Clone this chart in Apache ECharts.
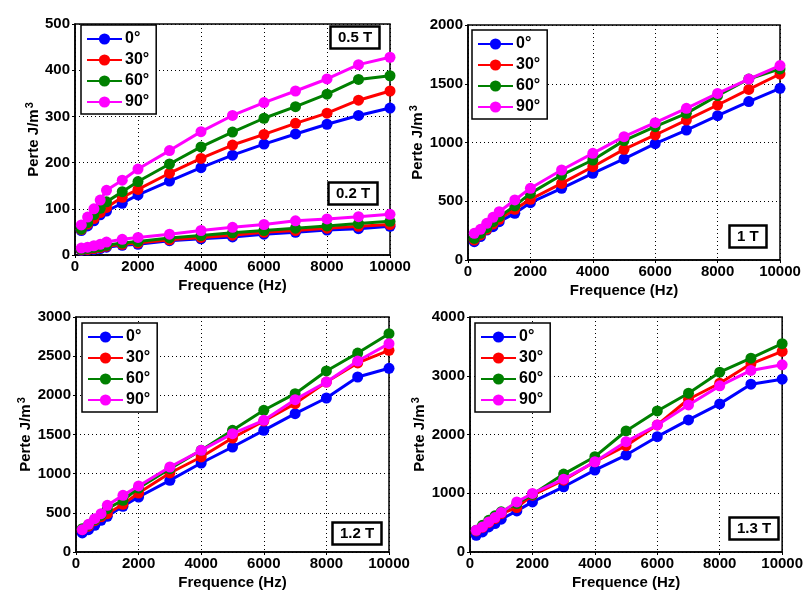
<!DOCTYPE html>
<html><head><meta charset="utf-8">
<script src="https://cdn.jsdelivr.net/npm/echarts@6/dist/echarts.min.js"></script>
<style>html,body{margin:0;padding:0;background:#fff}#c{width:806px;height:594px}</style>
</head><body><div id="c"></div>
<script>
var freqs = [200,400,600,800,1000,1500,2000,3000,4000,5000,6000,7000,8000,9000,10000];
var angles = ['0°','30°','60°','90°'];
var colors = ['#0000ff','#ff0000','#008000','#ff00ff'];

// 0.5 T
var t05_0  = [53,63,74,87,95,112,130,160,189,216,240,262,283,302,318];
var t05_30 = [55,67,79,92,103,125,142,177,209,238,261,285,307,335,355];
var t05_60 = [56,70,87,101,115,137,159,197,234,266,296,321,348,380,388];
var t05_90 = [65,82,100,119,140,162,186,226,267,302,330,355,381,412,428];
// 0.2 T
var t02_0  = [10,11,12,14,17,21,23,31,35,39,45,49,54,57,62];
var t02_30 = [11,12,14,16,19,23,26,33,38,43,49,53,58,62,66];
var t02_60 = [12,14,16,18,21,26,29,37,42,48,53,58,63,68,73];
var t02_90 = [15,17,20,23,28,34,38,45,53,60,66,74,78,83,88];
// 1 T
var t1_0  = [156,199,255,284,326,397,488,610,738,860,990,1106,1228,1348,1461];
var t1_30 = [170,213,261,306,346,431,516,652,794,942,1064,1191,1319,1452,1583];
var t1_60 = [184,227,275,326,369,460,567,723,851,1016,1135,1248,1399,1540,1626];
var t1_90 = [227,261,312,363,411,511,610,766,908,1050,1169,1291,1418,1540,1655];
// 1.2 T
var t12_0  = [243,285,340,404,455,583,702,915,1136,1340,1553,1766,1966,2234,2345];
var t12_30 = [285,330,400,450,489,609,753,1009,1213,1455,1672,1894,2170,2413,2574];
var t12_60 = [298,345,415,470,553,660,817,1064,1298,1553,1809,2021,2311,2540,2787];
var t12_90 = [285,353,426,489,596,723,843,1085,1298,1511,1681,1945,2170,2438,2660];
// 1.3 T
var t13_0  = [284,341,427,484,558,700,853,1110,1394,1650,1963,2248,2521,2856,2942];
var t13_30 = [358,420,500,570,654,757,967,1223,1536,1809,2162,2600,2873,3203,3414];
var t13_60 = [370,455,540,615,683,825,979,1326,1622,2060,2401,2703,3061,3300,3545];
var t13_90 = [370,427,512,586,671,853,996,1240,1536,1878,2162,2503,2828,3090,3186];

var xTicks = {min:0, max:10000, interval:2000};
var yTicks = [{max:500, interval:100},{max:2000, interval:500},{max:3000, interval:500},{max:4000, interval:1000}];

var groups = [
  [[t05_0,t05_30,t05_60,t05_90],[t02_0,t02_30,t02_60,t02_90]],
  [[t1_0,t1_30,t1_60,t1_90]],
  [[t12_0,t12_30,t12_60,t12_90]],
  [[t13_0,t13_30,t13_60,t13_90]]
];
var FONT = 'Liberation Sans';
var grids = [
  {left:75, top:24, width:315, height:231},
  {left:468, top:25, width:312, height:235},
  {left:76, top:317, width:313, height:235},
  {left:470, top:317, width:313, height:235}
];
var yNameGap = [32, 36, 40, 41];
var legendPos = [{left:81,top:25},{left:472,top:30},{left:82,top:323},{left:475,top:323}];

var xAxes=[], yAxes=[], series=[], legends=[];
function fmt(v){ return String(v); }
grids.forEach(function(g,i){
  g.show = true; g.borderColor = '#000'; g.borderWidth = 1.5; g.backgroundColor = '#fff';
  xAxes.push({type:'value', gridIndex:i, min:xTicks.min, max:xTicks.max, interval:xTicks.interval,
    name:'Frequence (Hz)', nameLocation:'middle', nameGap:23,
    nameTextStyle:{fontFamily:FONT, fontWeight:'bold', fontSize:15, color:'#000'},
    axisLine:{lineStyle:{color:'#000', width:1.5}},
    axisTick:{inside:false, length:3, lineStyle:{color:'#000'}},
    axisLabel:{fontFamily:FONT, fontWeight:'bold', fontSize:15, color:'#000', margin:4, formatter:fmt},
    splitLine:{show:true, lineStyle:{color:'#000', type:[1,3], width:1}}
  });
  yAxes.push({type:'value', gridIndex:i, min:0, max:yTicks[i].max, interval:yTicks[i].interval,
    name:'Perte J/m{s|3}', nameLocation:'middle', nameGap:yNameGap[i],
    nameTextStyle:{fontFamily:FONT, fontWeight:'bold', fontSize:15, color:'#000',
      rich:{s:{fontFamily:FONT, fontWeight:'bold', fontSize:11, color:'#000', verticalAlign:'bottom', padding:[0,0,8,1]}}},
    axisLine:{show:true, lineStyle:{color:'#000', width:1.5}},
    axisTick:{show:true, inside:false, length:3, lineStyle:{color:'#000'}},
    axisLabel:{fontFamily:FONT, fontWeight:'bold', fontSize:15, color:'#000', margin:5, formatter:fmt},
    splitLine:{show:true, lineStyle:{color:'#000', type:[1,3], width:1}}
  });
  groups[i].forEach(function(set){
    set.forEach(function(vals,k){
      series.push({type:'line', name:angles[k], xAxisIndex:i, yAxisIndex:i,
        data:freqs.map(function(f,j){return [f, vals[j]];}),
        symbol:'circle', symbolSize:11, color:colors[k],
        lineStyle:{width:3, color:colors[k]}, itemStyle:{color:colors[k]},
        animation:false, z:2+k});
    });
  });
  legends.push({orient:'vertical', left:legendPos[i].left, top:legendPos[i].top,
    data:angles, backgroundColor:'#fff', borderColor:'#000', borderWidth:1.5,
    padding:[6,7,4,5], itemGap:5, itemWidth:35, itemHeight:14,
    textStyle:{fontFamily:FONT, fontWeight:'bold', fontSize:16, color:'#000', padding:[0,0,0,-2], lineHeight:15}});
});

var labels = [
  {text:'0.5 T', left:330, top:26},
  {text:'0.2 T', left:328, top:182},
  {text:'1 T', left:729, top:225},
  {text:'1.2 T', left:332, top:522},
  {text:'1.3 T', left:729, top:517}
];
var titles = labels.map(function(l){
  return {text:l.text, left:l.left, top:l.top, borderColor:'#000', borderWidth:2.5,
    backgroundColor:'#fff', padding:[4,8,4,8],
    textStyle:{fontFamily:FONT, fontWeight:'bold', fontSize:15, color:'#000'}};
});

var chart = echarts.init(document.getElementById('c'), null, {renderer:'canvas'});
chart.setOption({animation:false, backgroundColor:'#fff', title:titles, grid:grids,
  xAxis:xAxes, yAxis:yAxes, legend:legends, series:series});
</script></body></html>
